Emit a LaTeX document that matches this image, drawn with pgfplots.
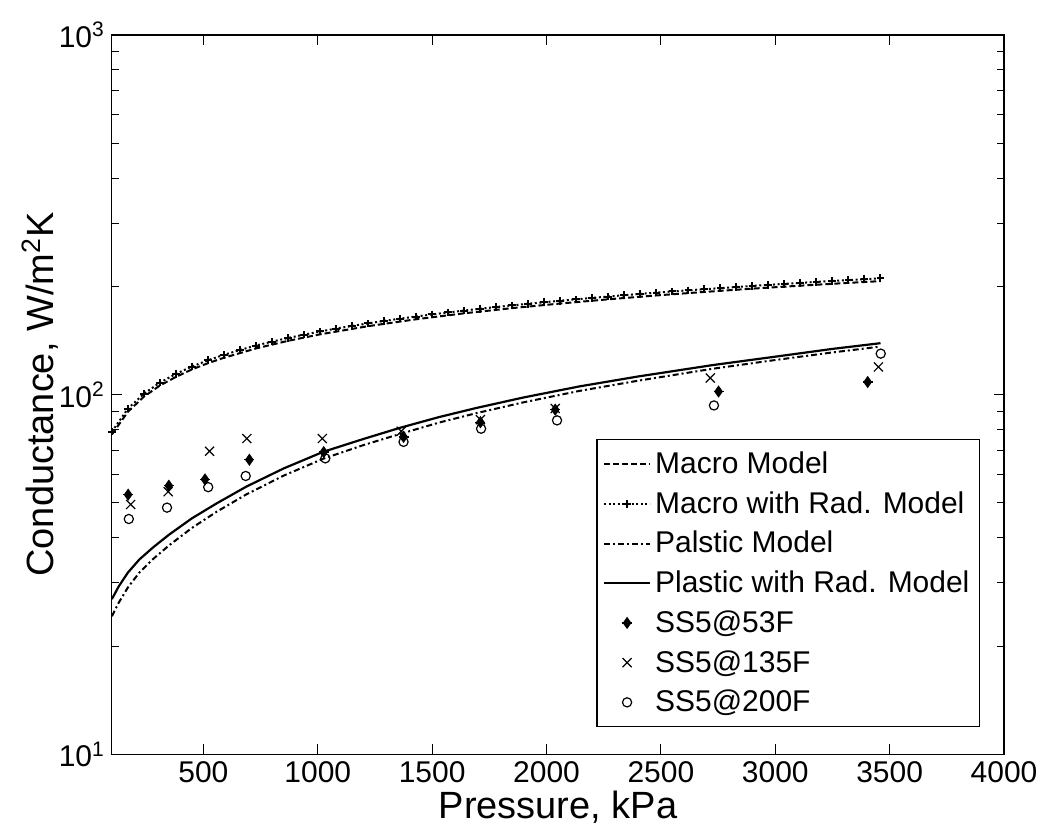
\documentclass[border=0pt]{standalone}
\usepackage{fontspec}
\setmainfont{Liberation Sans}
\usepackage{pgfplots}
\pgfplotsset{compat=1.18}
\pgfdeclareplotmark{dplus}{%
  \pgfpathmoveto{\pgfqpoint{0pt}{\pgfplotmarksize}}%
  \pgfpathlineto{\pgfqpoint{0.7\pgfplotmarksize}{0pt}}%
  \pgfpathlineto{\pgfqpoint{0pt}{-\pgfplotmarksize}}%
  \pgfpathlineto{\pgfqpoint{-0.7\pgfplotmarksize}{0pt}}%
  \pgfpathclose
  \pgfusepathqfillstroke
  \pgfpathmoveto{\pgfqpoint{-\pgfplotmarksize}{0pt}}%
  \pgfpathlineto{\pgfqpoint{\pgfplotmarksize}{0pt}}%
  \pgfusepathqstroke
}
\begin{document}
\begin{tikzpicture}
\begin{axis}[
  name=ax,
  scale only axis,
  width=446.5pt, height=360pt,
  ymode=log,
  xmin=100, xmax=4000, ymin=10, ymax=1000,
  xtick={500,1000,1500,2000,2500,3000,3500,4000},
  xticklabels={500,1000,1500,2000,2500,3000,3500,4000},
  ytick={10,100,1000},
  yticklabels={10\textsuperscript{1},10\textsuperscript{2},10\textsuperscript{3}},
  tick align=inside,
  major tick length=5pt,
  minor tick length=3.5pt,
  tick style={black, line width=0.5pt},
  axis line style={line width=0.6pt},
  ticklabel style={font=\fontsize{15}{17}\selectfont},
  xlabel={Pressure, kPa},
  ylabel={Conductance, W/m\textsuperscript{2}K},
  label style={font=\fontsize{19}{22}\selectfont},
  xlabel style={at={(axis description cs:0.5,-0.0736)}, anchor=center},
  ylabel style={at={(axis description cs:-0.0806,0.5)}, anchor=center},
  legend style={at={(axis description cs:0.9731,0.0375)}, anchor=south east,
    draw=black, fill=white, line width=0.6pt,
    font=\fontsize{15}{17}\selectfont, row sep=3.5pt,
    inner xsep=3pt, inner ysep=4pt},
  legend cell align=left,
  legend image code/.code={\draw[mark repeat=2,mark phase=2,#1] plot coordinates {(0pt,0pt)(11.5pt,0pt)(23pt,0pt)};},
]
% Macro Model (dashed)
\addplot[black, line width=1pt, dash pattern=on 3pt off 1.5pt] coordinates {
(100,77.5)(170,89.6)(240,98.7)(310,106)(380,112)(450,117.5)(520,122.3)(590,126.6)
(730,134.4)(870,141.1)(1010,147.1)(1220,155)(1430,162)(1640,168.3)(1850,174)
(2060,179.2)(2270,184.1)(2480,188.7)(2690,193)(2900,197.1)(3110,200.9)(3320,204.5)(3460,206.8)};
\addlegendentry{Macro Model}
% Macro with Rad. Model (dotted with +)
\addplot[black, line width=1pt, dash pattern=on 1pt off 1.3pt, mark=+, mark size=1.9pt, mark options={solid, line width=1pt}] coordinates {
(100,78.9)(170,91.4)(240,100.6)(310,108.0)(380,114.2)(450,119.7)(520,124.6)(590,129.0)
(660,133.1)(730,136.9)(800,140.4)(870,143.7)(940,146.8)(1010,149.8)(1080,152.6)(1150,155.2)
(1220,157.8)(1290,160.3)(1360,162.6)(1430,164.9)(1500,167.1)(1570,169.2)(1640,171.3)(1710,173.3)
(1780,175.2)(1850,177.1)(1920,178.9)(1990,180.7)(2060,182.4)(2130,184.1)(2200,185.8)(2270,187.4)
(2340,189.0)(2410,190.6)(2480,192.1)(2550,193.6)(2620,195.0)(2690,196.4)(2760,197.8)(2830,199.2)
(2900,200.6)(2970,201.9)(3040,203.2)(3110,204.5)(3180,205.8)(3250,207.0)(3320,208.2)(3390,209.4)(3460,210.6)};
\addlegendentry{Macro with Rad. Model}
% Palstic Model (dash-dot)
\addplot[black, line width=1pt, dash pattern=on 3pt off 1.5pt on 1pt off 1.5pt] coordinates {
(100,24.2)(130,26.4)(170,29.1)(220,32.0)(280,34.9)(350,38.1)(450,42.6)(557,47.2)(688,52.8)
(850,59.5)(1023,66.3)(1200,72.4)(1358,77.7)(1530,83.6)(1693,88.8)(1900,95.2)(2144,102.4)
(2400,109.3)(2726,118.0)(3000,124.8)(3250,131.0)(3460,136.0)};
\addlegendentry{Palstic Model}
% Plastic with Rad. Model (solid)
\addplot[black, line width=1.1pt] coordinates {
(100,27.0)(130,29.3)(170,32.0)(220,34.8)(280,37.6)(350,40.8)(450,45.3)(557,49.8)(688,55.5)
(850,62.3)(1023,69.3)(1200,75.3)(1358,80.8)(1530,86.6)(1693,91.8)(1900,98.2)(2144,105.4)
(2400,112.3)(2726,120.8)(3000,127.5)(3250,134.0)(3460,139.0)};
\addlegendentry{Plastic with Rad. Model}
% SS5@53F
\addplot[black, only marks, mark=dplus, mark size=2.5pt, mark options={fill=black, line width=0.7pt}] coordinates {
(171,52.7)(349,55.8)(507,58.1)(701,65.9)(1026,69.2)(1375,76.3)(1711,83.8)(2038,90.8)(2752,102)(3404,108.4)};
\addlegendentry{SS5@53F}
% SS5@135F
\addplot[black, only marks, mark=x, mark size=3.2pt, mark options={line width=0.6pt}] coordinates {
(182,49.5)(346,53.7)(527,69.6)(690,75.5)(1020,75.5)(1365,79.1)(1711,85.2)(2038,91.5)(2716,111.2)(3451,119.4)};
\addlegendentry{SS5@135F}
% SS5@200F
\addplot[black, only marks, mark=o, mark size=2.3pt, mark options={line width=0.6pt}] coordinates {
(174,45.1)(341,48.5)(521,55.3)(685,59.4)(1033,66.5)(1375,73.9)(1714,80.4)(2046,84.8)(2732,93.3)(3461,130)};
\addlegendentry{SS5@200F}
\end{axis}
\path ([shift={(-56pt,-39pt)}]ax.south west) rectangle ([shift={(19.5pt,17.5pt)}]ax.north east);
\end{tikzpicture}
\end{document}
